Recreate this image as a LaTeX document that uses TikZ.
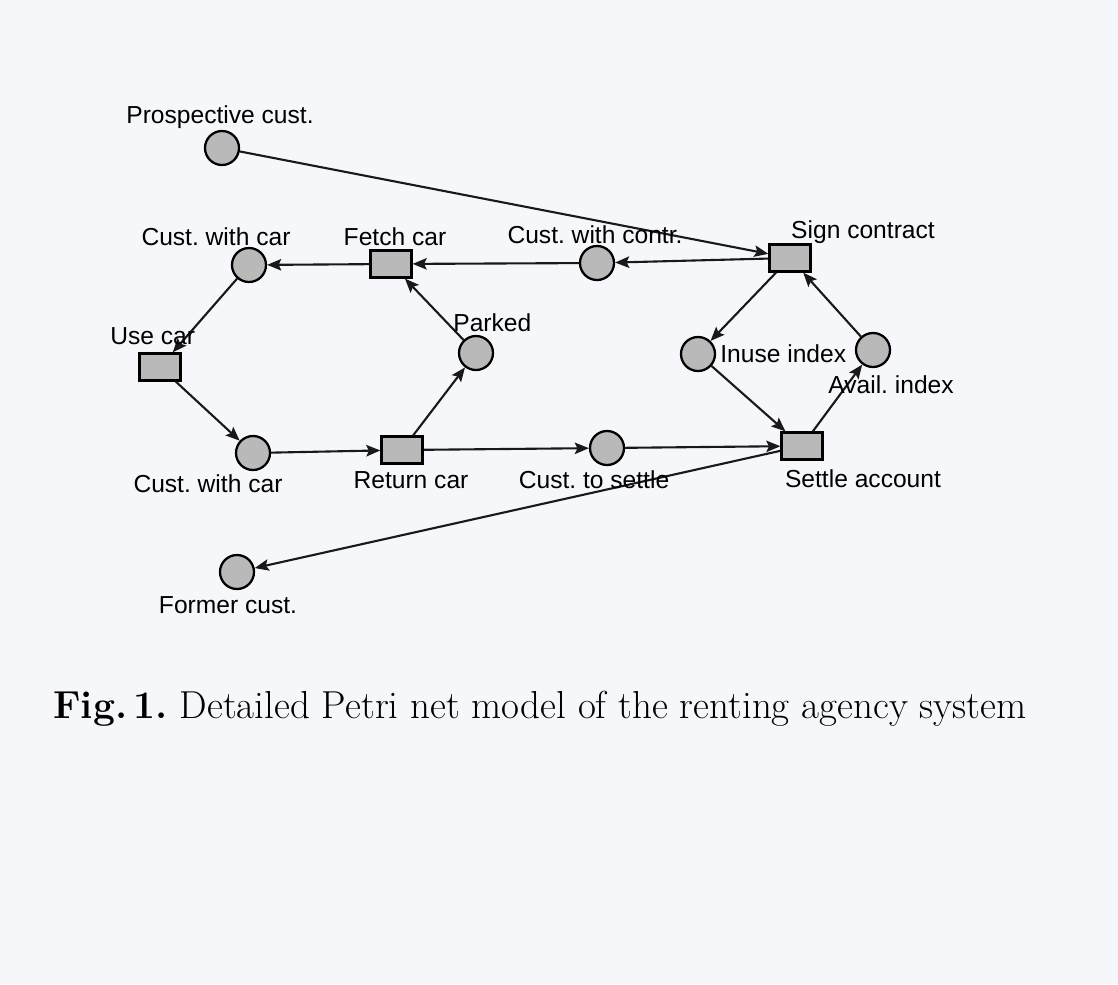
\documentclass[tikz,border=0pt]{standalone}
\usepackage{fontspec}
\setmainfont{Latin Modern Roman}
\newfontfamily\labfont{Liberation Sans}
\usetikzlibrary{arrows.meta}
\definecolor{paper}{RGB}{246,247,250}
\definecolor{tok}{RGB}{185,185,185}
\frenchspacing
\begin{document}
\begin{tikzpicture}[x=0.02cm,y=-0.02cm,
  place/.style={circle,draw=black,line width=1.3pt,fill=tok,minimum size=0.68cm,inner sep=0pt},
  trans/.style={rectangle,draw=black,line width=1.3pt,fill=tok,minimum width=0.82cm,minimum height=0.54cm,inner sep=0pt},
  lab/.style={font=\labfont\fontsize{14pt}{16pt}\selectfont,inner sep=0pt,anchor=base},
  labl/.style={lab,anchor=base west},
  arc/.style={-{Stealth[length=8pt,width=6.5pt,inset=1.5pt]},line width=1.2pt,draw=black!90}
]
\fill[paper] (0,0) rectangle (1118,984);
\useasboundingbox (0,0) rectangle (1118,984);

% places
\node[place] (prosp) at (222,148) {};
\node[place] (cwc1) at (249,265) {};
\node[place] (ccontr) at (597,263) {};
\node[place] (parked) at (476,353) {};
\node[place] (inuse) at (698,354) {};
\node[place] (avail) at (873,350) {};
\node[place] (cwc2) at (253,453) {};
\node[place] (csettle) at (607,448) {};
\node[place] (former) at (237,572) {};
% transitions
\node[trans] (fetch) at (391,264) {};
\node[trans] (sign) at (790,258) {};
\node[trans] (use) at (160,367) {};
\node[trans] (ret) at (402,450) {};
\node[trans] (settle) at (802,446) {};

% arcs
\draw[arc] (prosp) -- (sign);
\draw[arc] (sign) -- (ccontr);
\draw[arc] (ccontr) -- (fetch);
\draw[arc] (fetch) -- (cwc1);
\draw[arc] (cwc1) -- (use);
\draw[arc] (use) -- (cwc2);
\draw[arc] (cwc2) -- (ret);
\draw[arc] (ret) -- (parked);
\draw[arc] (parked) -- (fetch);
\draw[arc] (ret) -- (csettle);
\draw[arc] (csettle) -- (settle);
\draw[arc] (settle) -- (former);
\draw[arc] (sign) -- (inuse);
\draw[arc] (inuse) -- (settle);
\draw[arc] (settle) -- (avail);
\draw[arc] (avail) -- (sign);

% labels
\node[lab] (lprosp) at (220,123) {Prospective cust.};
\node[lab] (lcwc1) at (216,245) {Cust. with car};
\node[lab] (lfetch) at (395,245) {Fetch car};
\node[lab] (lccontr) at (595,243) {Cust. with contr.};
\node[lab] (lsign) at (863,238) {Sign contract};
\node[labl] (lparked) at (453,331) {Parked};
\node[labl] (luse) at (110,344) {Use car};
\node[labl] (linuse) at (720,362) {Inuse index};
\node[labl] (lavail) at (828,393) {Avail. index};
\node[lab] (lcwc2) at (208,492) {Cust. with car};
\node[lab] (lret) at (411,488) {Return car};
\node[lab] (lcsettle) at (594,488) {Cust. to settle};
\node[lab] (lsettle) at (863,487) {Settle account};
\node[lab] (lformer) at (228,613) {Former cust.};

% caption
\node[anchor=base west,inner sep=0pt,font=\fontsize{22.2pt}{26pt}\selectfont] (cap) at (53,718) {\textbf{Fig.\,1.} Detailed Petri net model of the renting agency system};
\end{tikzpicture}
\end{document}
